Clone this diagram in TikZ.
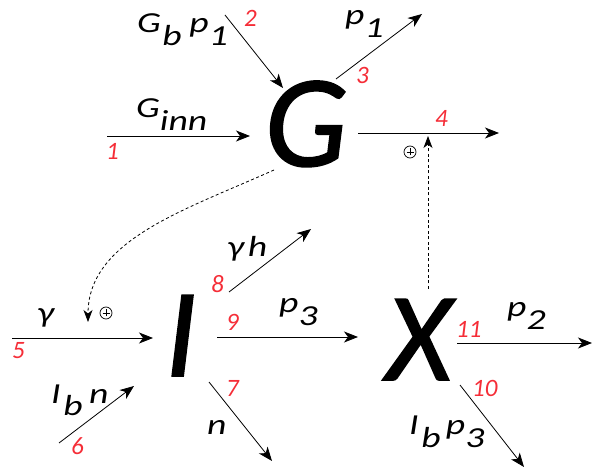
\documentclass[tikz,border=0pt]{standalone}
\usepackage{fontspec}
\setmainfont{Carlito}
\newfontfamily\bigfont[FakeBold=1.3]{Carlito}
\usetikzlibrary{arrows.meta}
\definecolor{numred}{RGB}{245,45,55}
\newcommand{\lo}[1]{\raisebox{-0.42em}{#1}}
\newcommand{\wide}[1]{\scalebox{1.3}[1]{#1}}
\tikzset{
  flow/.style={line width=0.8pt,-{Stealth[length=14pt,width=11pt,inset=4pt]}},
  ctrl/.style={line width=0.8pt,dash pattern=on 3pt off 2.5pt,-{Stealth[length=12pt,width=9pt,inset=3.5pt]}},
  big/.style={inner sep=0pt,anchor=base,font=\fontsize{126}{126}\bigfont\itshape},
  lab/.style={inner sep=0pt,anchor=base west,font=\fontsize{29}{29}\selectfont\itshape},
  num/.style={inner sep=0pt,anchor=base west,text=numred,font=\fontsize{25}{25}\selectfont\itshape},
  plus/.style={circle,draw,line width=0.7pt,minimum size=12pt,inner sep=0pt}
}
\begin{document}
\begin{tikzpicture}[x=1pt,y=-1pt]
\useasboundingbox (0,0) rectangle (592,470);
% main nodes
\node[big,font=\fontsize{131}{131}\bigfont\itshape] (G) at (306,166) {G};
\node[big] (I) at (181,376) {I};
\node[big] (X) at (419,380) {X};
% endpoints
\coordinate (a1s) at (107,136); \coordinate (a1e) at (250,136);
\coordinate (a2s) at (225,15);  \coordinate (a2e) at (283,88);
\coordinate (a3s) at (336,79);  \coordinate (a3e) at (422,14);
\coordinate (a4s) at (358,133); \coordinate (a4e) at (499,133);
\coordinate (a5s) at (12,338);  \coordinate (a5e) at (153,338);
\coordinate (a6s) at (59,443);  \coordinate (a6e) at (134,386);
\coordinate (a7s) at (209,382); \coordinate (a7e) at (272,461);
\coordinate (a8s) at (229,292); \coordinate (a8e) at (311,229);
\coordinate (a9s) at (217,337); \coordinate (a9e) at (358,337);
\coordinate (a11s) at (457,343); \coordinate (a11e) at (592,343);
\coordinate (a10s) at (460,385); \coordinate (a10e) at (524,467);
\coordinate (dXs) at (428,289); \coordinate (dXe) at (428,136);
\coordinate (dGs) at (274,170); \coordinate (dGe) at (88,322);
% connectors
\draw[flow] (a1s) -- (a1e);
\draw[flow] (a2s) -- (a2e);
\draw[flow] (a3s) -- (a3e);
\draw[flow] (a4s) -- (a4e);
\draw[flow] (a5s) -- (a5e);
\draw[flow] (a6s) -- (a6e);
\draw[flow] (a7s) -- (a7e);
\draw[flow] (a8s) -- (a8e);
\draw[flow] (a9s) -- (a9e);
\draw[flow] (a11s) -- (a11e);
\draw[flow] (a10s) -- (a10e);
\draw[ctrl] (dXs) -- (dXe);
\draw[ctrl] (dGs) .. controls (185,210) and (88,240) .. (dGe);
% labels
\node[lab] (l2) at (137,33) {\wide{G\kern1pt\lo{b}\kern6pt p\lo{1}}};
\node[lab] (l1) at (136,118) {\wide{G\lo{inn}}};
\node[lab] (l3) at (345,25) {\wide{p\lo{1}}};
\node[lab] (l5) at (37,323) {\wide{γ}};
\node[lab] (l6) at (51,403) {\wide{I\kern2pt\lo{b}\kern5pt n}};
\node[lab] (l7) at (207,435) {\wide{n}};
\node[lab] (l8) at (227,257) {\wide{γ\kern3pt h}};
\node[lab] (l9) at (279,313) {\wide{p\lo{3}}};
\node[lab] (l11) at (507,317) {\wide{p\lo{2}}};
\node[lab] (l10) at (409,435) {\wide{I\kern2pt\lo{b}\kern4pt p\lo{3}}};
% numbers
\node[num] (n1) at (106,160) {1};
\node[num] (n2) at (244,27) {2};
\node[num] (n3) at (356,84) {3};
\node[num] (n4) at (435,127) {4};
\node[num] (n5) at (12,359) {5};
\node[num] (n6) at (71,454) {6};
\node[num] (n7) at (226,396) {7};
\node[num] (n8) at (211,293) {8};
\node[num] (n9) at (226,331) {9};
\node[num] (n10) at (472,396) {10};
\node[num] (n11) at (456,338) {11};
% plus signs
\node[plus] (p1) at (410,152) {};
\node[plus] (p2) at (106,313) {};
\foreach \p in {p1,p2}{
  \draw[line width=0.7pt] ([xshift=-3.5pt]\p.center) -- ([xshift=3.5pt]\p.center);
  \draw[line width=0.7pt] ([yshift=-3.5pt]\p.center) -- ([yshift=3.5pt]\p.center);
}
\end{tikzpicture}
\end{document}
